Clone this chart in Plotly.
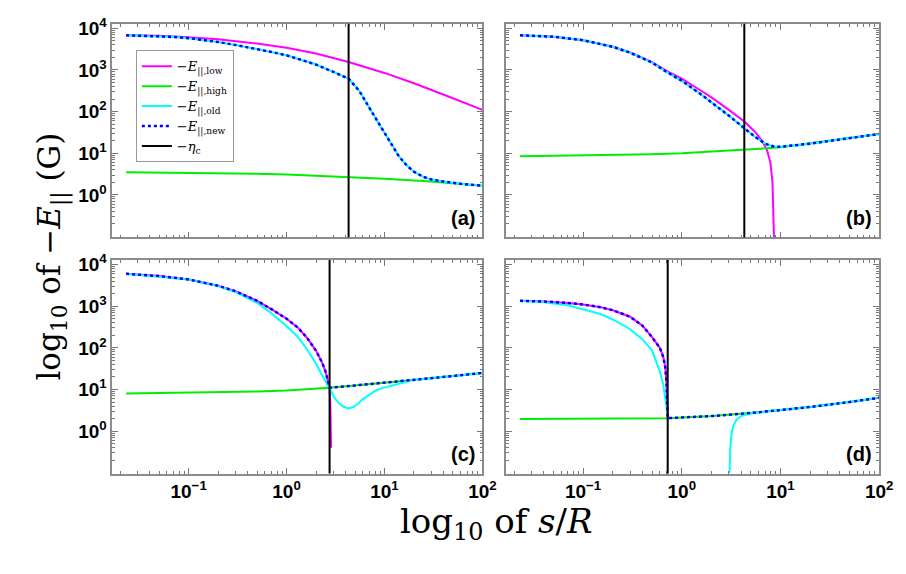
import plotly.graph_objects as go
from plotly.subplots import make_subplots

# ---- critical distance eta_c (in units of R) for each case ----
ETA_C = {"a": 4.3, "b": 4.3, "c": 2.75, "d": 0.72}

# ---- case (a) ----
A_LOW_S = [0.023, 0.05, 0.1, 0.2, 0.5, 1, 2, 4.3, 10, 20, 50, 100]
A_LOW_E = [6800, 6600, 6100, 5500, 4300, 3400, 2500, 1550, 850, 480, 210, 110]
A_HIGH_S = [0.023, 0.1, 0.5, 1, 4.3, 10, 30, 100]
A_HIGH_E = [3.5, 3.4, 3.2, 3.1, 2.7, 2.45, 2.1, 1.65]
A_OLD_S = [0.023, 0.04, 0.07, 0.1, 0.15, 0.2, 0.3, 0.5, 0.7, 1, 1.5, 2, 3, 4.3,
           5.5, 6.8, 8.5, 10, 12, 14, 17, 20, 25, 31, 40, 60, 100]
A_OLD_E = [6800, 6600, 6200, 5800, 5200, 4700, 4000, 3200, 2700, 2250, 1700, 1350, 900, 620,
           320, 135, 58, 31, 16, 8.5, 5, 3.6, 2.7, 2.3, 2.1, 1.85, 1.65]
A_NEW_S = A_OLD_S
A_NEW_E = A_OLD_E

# ---- case (b) ----
B_LOW_S = [0.023, 0.05, 0.1, 0.2, 0.3, 0.5, 0.7, 1, 1.5, 2, 3, 4.3, 5.5, 6.5, 7.3, 7.9, 8.3, 8.5, 8.6]
B_LOW_E = [6800, 6300, 5200, 3600, 2650, 1550, 950, 620, 340, 220, 110, 58, 33, 20, 12, 6, 2, 0.5, 0.09]
B_HIGH_S = [0.023, 0.1, 0.5, 1, 4.3, 8.5, 10, 30, 100]
B_HIGH_E = [8.5, 8.8, 9.5, 10, 12, 13.5, 14, 19.5, 29]
B_OLD_S = [0.023, 0.05, 0.1, 0.2, 0.3, 0.5, 0.7, 1, 1.5, 2, 3, 4.3, 5.5, 7, 8.5, 10, 15, 20, 30, 50, 100]
B_OLD_E = [6800, 6300, 5200, 3600, 2600, 1500, 900, 550, 280, 170, 80, 40, 25, 17, 14.5, 14.3, 15.5, 17, 19.5, 23, 29]
B_NEW_S = B_OLD_S
B_NEW_E = B_OLD_E

# ---- case (c) ----
C_LOW_S = [0.023, 0.05, 0.1, 0.2, 0.3, 0.5, 0.7, 1, 1.3, 1.6, 2, 2.3, 2.5, 2.65, 2.75, 2.8, 2.83, 2.85]
C_LOW_E = [6000, 5300, 4400, 3100, 2300, 1350, 850, 500, 310, 180, 85, 45, 27, 16, 11, 4, 1.2, 0.4]
C_HIGH_S = [0.023, 0.1, 0.5, 1, 2.75, 10, 30, 100]
C_HIGH_E = [8, 8.3, 9, 9.5, 11, 14.5, 18.5, 25]
C_OLD_S = [0.023, 0.1, 0.2, 0.3, 0.5, 0.7, 1, 1.3, 1.6, 2, 2.24, 2.5, 2.65, 2.75, 2.9, 3.1, 3.4,
           3.8, 4.27, 4.8, 5.4, 6, 7, 8, 9.5, 11.7, 13, 20, 50, 100]
C_OLD_E = [6000, 4400, 3050, 2200, 1200, 680, 330, 185, 95, 42, 25, 16, 12.5, 11, 8.5, 6.2, 4.7,
           3.9, 3.5, 3.8, 4.6, 5.8, 7.6, 9.2, 10.8, 12.3, 13.3, 17, 21, 25]
C_NEW_S = [0.023, 0.05, 0.1, 0.2, 0.3, 0.5, 0.7, 1, 1.3, 1.6, 2, 2.3, 2.5, 2.65, 2.75, 5, 10, 20, 50, 100]
C_NEW_E = [6000, 5300, 4400, 3100, 2300, 1350, 850, 500, 310, 180, 85, 45, 27, 16, 11, 12.5, 14.5, 17, 21, 25]

# ---- case (d) ----
D_LOW_S = [0.023, 0.04, 0.07, 0.1, 0.15, 0.2, 0.3, 0.4, 0.5, 0.55, 0.6, 0.65, 0.68, 0.7, 0.72]
D_LOW_E = [1350, 1300, 1200, 1100, 950, 800, 560, 340, 180, 135, 100, 60, 35, 15, 2.05]
D_HIGH_S = [0.023, 0.1, 0.72, 2, 4, 10, 20, 50, 100]
D_HIGH_E = [1.95, 2.0, 2.05, 2.3, 2.6, 3.2, 3.8, 5, 6.3]
D_OLD_S = [0.023, 0.04, 0.07, 0.1, 0.15, 0.2, 0.3, 0.4, 0.5, 0.6, 0.65, 0.68, 0.72, None,
           3.05, 3.1, 3.2, 3.35, 3.6, 4, 4.6, 5.3, 10, 20, 50, 100]
D_OLD_E = [1350, 1250, 1050, 850, 650, 480, 280, 160, 87, 27, 13, 6, 2.4, None,
           0.1, 0.4, 0.9, 1.4, 1.9, 2.3, 2.55, 2.7, 3.2, 3.8, 5, 6.3]
D_NEW_S = [0.023, 0.04, 0.07, 0.1, 0.15, 0.2, 0.3, 0.4, 0.5, 0.55, 0.6, 0.65, 0.68, 0.7, 0.72,
           2, 4, 10, 20, 50, 100]
D_NEW_E = [1350, 1300, 1200, 1100, 950, 800, 560, 340, 180, 135, 100, 60, 35, 15, 2.05,
           2.3, 2.6, 3.2, 3.8, 5, 6.3]

PANELS = [
    ("a", 1, 1, (A_LOW_S, A_LOW_E), (A_HIGH_S, A_HIGH_E), (A_OLD_S, A_OLD_E), (A_NEW_S, A_NEW_E)),
    ("b", 1, 2, (B_LOW_S, B_LOW_E), (B_HIGH_S, B_HIGH_E), (B_OLD_S, B_OLD_E), (B_NEW_S, B_NEW_E)),
    ("c", 2, 1, (C_LOW_S, C_LOW_E), (C_HIGH_S, C_HIGH_E), (C_OLD_S, C_OLD_E), (C_NEW_S, C_NEW_E)),
    ("d", 2, 2, (D_LOW_S, D_LOW_E), (D_HIGH_S, D_HIGH_E), (D_OLD_S, D_OLD_E), (D_NEW_S, D_NEW_E)),
]

# ---- axis ticks ----
X_TICKS = [0.1, 1, 10, 100]
X_TICKTEXT = ["10<sup>−1</sup>", "10<sup>0</sup>", "10<sup>1</sup>", "10<sup>2</sup>"]
Y_TICKS = [1, 10, 100, 1000, 10000]
Y_TICKTEXT = ["10<sup>0</sup>", "10<sup>1</sup>", "10<sup>2</sup>", "10<sup>3</sup>", "10<sup>4</sup>"]
X_MINOR = [m * 10.0 ** k for k in range(-2, 2) for m in range(2, 10)]
Y_MINOR = [m * 10.0 ** k for k in range(-1, 4) for m in range(2, 10)]

NAMES = {
    "low": "−<i>E</i><sub>||,low</sub>",
    "high": "−<i>E</i><sub>||,high</sub>",
    "old": "−<i>E</i><sub>||,old</sub>",
    "new": "−<i>E</i><sub>||,new</sub>",
    "eta": "−<i>η</i><sub>c</sub>",
}
COLORS = {"low": "#ff00ff", "high": "#00ee00", "old": "#00ffff", "new": "#0000ff"}

W, H = 906, 574
X_DOMAINS = {1: [114 / W, 490 / W], 2: [514 / W, 893 / W]}
Y_DOMAINS = {1: [1 - 232 / H, 1 - 15 / H], 2: [1 - 472 / H, 1 - 255 / H]}

fig = make_subplots(rows=2, cols=2)

for label, r, c, low, high, old, new in PANELS:
    first = label == "a"
    for key, (s, e) in (("low", low), ("high", high), ("old", old), ("new", new)):
        line = dict(color=COLORS[key], width=2)
        if key == "new":
            line = dict(color=COLORS[key], width=2.5, dash="dot")
        fig.add_trace(
            go.Scatter(x=s, y=e, mode="lines", line=line, name=NAMES[key],
                       legendgroup=key, showlegend=first, connectgaps=False),
            row=r, col=c,
        )
    fig.add_vline(x=ETA_C[label], line=dict(color="black", width=2), row=r, col=c)
    fig.add_annotation(
        text="<b>(" + label + ")</b>", x=0.985, y=0.03, xref="x domain", yref="y domain",
        xanchor="right", yanchor="bottom", showarrow=False,
        font=dict(family="Liberation Sans", size=20, color="black"), row=r, col=c,
    )

# legend entry for the critical-distance marker
fig.add_trace(
    go.Scatter(x=[None], y=[None], mode="lines", line=dict(color="black", width=2),
               name=NAMES["eta"], showlegend=True),
    row=1, col=1,
)

tickfont = dict(family="Liberation Sans", size=19, color="black", weight="bold")
for r in (1, 2):
    for c in (1, 2):
        fig.update_xaxes(
            type="log", range=[-1.78, 2.0], domain=X_DOMAINS[c],
            tickvals=X_TICKS, ticktext=X_TICKTEXT, showticklabels=(r == 2),
            ticks="inside", ticklen=6, tickcolor="#777", tickwidth=1,
            minor=dict(tickvals=X_MINOR, ticks="inside", ticklen=3, tickcolor="#777"),
            showline=True, linecolor="#8c8c8c", linewidth=1.5, mirror="ticks",
            showgrid=False, zeroline=False, tickfont=tickfont,
            row=r, col=c,
        )
        fig.update_yaxes(
            type="log", range=[-1.02, 4.11], domain=Y_DOMAINS[r],
            tickvals=Y_TICKS, ticktext=Y_TICKTEXT, showticklabels=(c == 1),
            ticks="inside", ticklen=6, tickcolor="#777", tickwidth=1,
            minor=dict(tickvals=Y_MINOR, ticks="inside", ticklen=3, tickcolor="#777"),
            showline=True, linecolor="#8c8c8c", linewidth=1.5, mirror="ticks",
            showgrid=False, zeroline=False, tickfont=tickfont,
            row=r, col=c,
        )

fig.add_annotation(
    text="log<sub>10</sub> of <i>s</i>/<i>R</i>", x=504 / W, y=1 - 548 / H,
    xref="paper", yref="paper", showarrow=False,
    font=dict(family="DejaVu Serif", size=34, color="black"),
)
fig.add_annotation(
    text="log<sub>10</sub> of −<i>E</i><sub>||</sub> (G)", x=30 / W, y=1 - 252 / H,
    xref="paper", yref="paper", showarrow=False, textangle=-90,
    font=dict(family="DejaVu Serif", size=31, color="black"),
)

fig.update_layout(
    width=W, height=H,
    margin=dict(l=0, r=0, t=0, b=0),
    paper_bgcolor="white", plot_bgcolor="white",
    showlegend=True,
    legend=dict(
        x=138 / W, y=1 - 42 / H, xanchor="left", yanchor="top",
        bgcolor="white", bordercolor="#999", borderwidth=1,
        font=dict(family="DejaVu Serif", size=13, color="black"),
        itemwidth=30, tracegroupgap=0,
    ),
)

fig.write_html("out.html")
